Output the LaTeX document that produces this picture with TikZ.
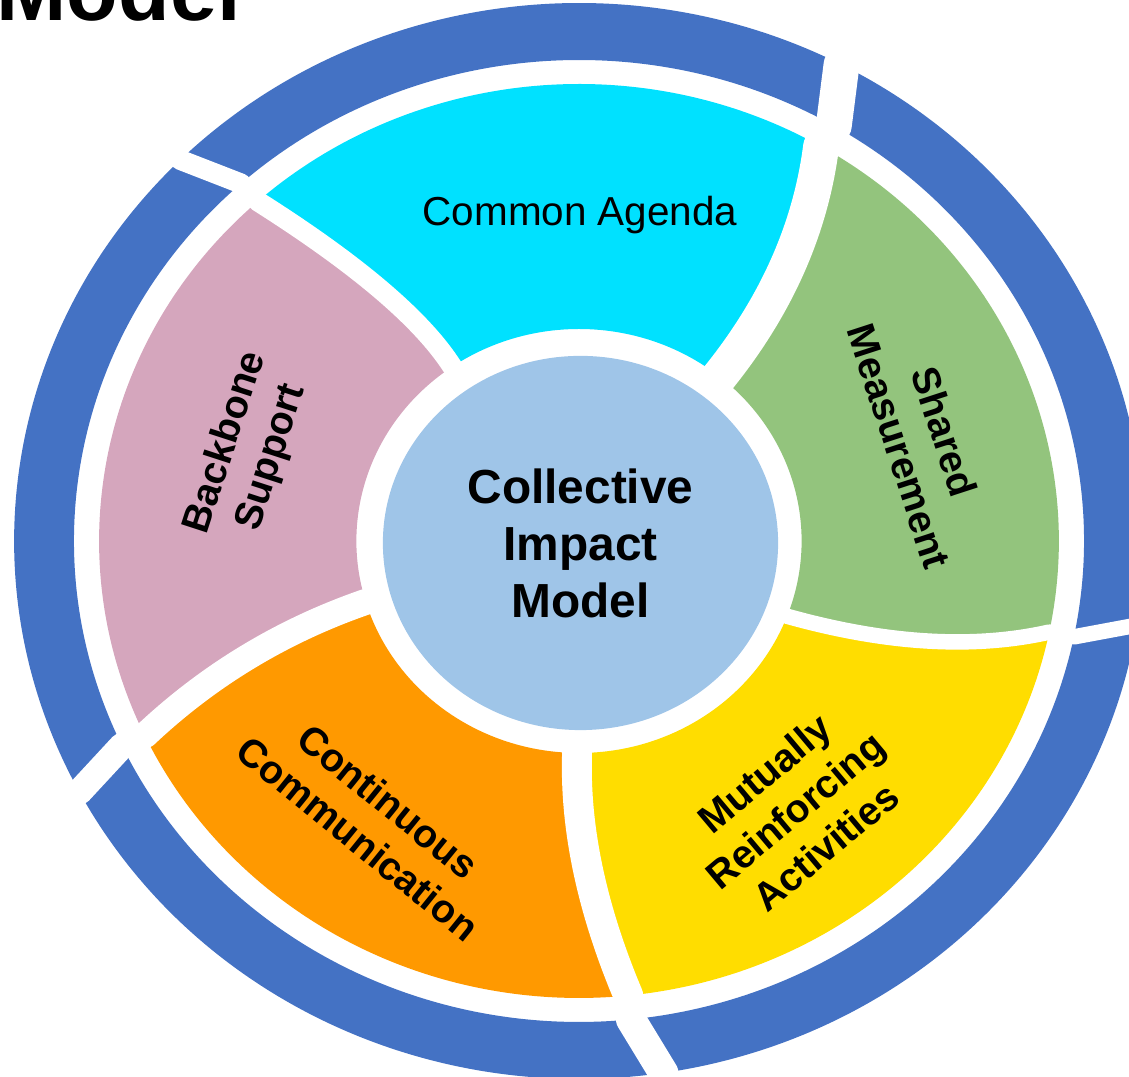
\documentclass[tikz,border=0pt]{standalone}
\usepackage{fontspec}
\setmainfont{Liberation Sans}
\usetikzlibrary{shapes.geometric,calc}
\definecolor{ringblue}{HTML}{4472C4}
\definecolor{agenda}{HTML}{00E1FF}
\definecolor{backbone}{HTML}{D5A6BD}
\definecolor{communication}{HTML}{FF9900}
\definecolor{activities}{HTML}{FFDD00}
\definecolor{measurement}{HTML}{93C47D}
\definecolor{hubblue}{HTML}{9FC5E8}
\tikzset{
    ring/.style={fill=ringblue},
    gap/.style={draw=white, line cap=round},
    hub/.style={ellipse, fill=hubblue, minimum width=3.95cm, minimum height=3.74cm, inner sep=0pt,
                align=center, font=\bfseries\fontsize{13.6}{16.2}\selectfont},
    seglabel/.style={align=center, font=\bfseries\fontsize{11.2}{13.6}\selectfont},
    title/.style={anchor=base west, inner sep=0pt, font=\bfseries\fontsize{24}{28}\selectfont},
}
\begin{document}
\begin{tikzpicture}[x=0.01cm, y=0.01cm]
    \useasboundingbox (-579,-536) rectangle (550,541);
    \clip (-579,-536) rectangle (550,541);

    \begin{scope}[xscale=1.05]
        % curved gaps: inner end, middle, outer end
        \foreach \n/\ti/\tm/\rm/\to in {1/50.9/54.2/340/59.7, 2/124.7/126.9/314/132.0,
                                        3/196.7/200.2/336/205.2, 4/269.5/271.5/329/275.9,
                                        5/339.2/343.2/346/348.5}{
            \coordinate (gin\n) at (\ti:212);
            \coordinate (gmid\n) at (\tm:\rm);
            \coordinate (gout\n) at (\to:457);
            \coordinate (gca\n) at ($1.3333*(gmid\n)-0.3333*(gout\n)$);
            \coordinate (gcb\n) at ($1.3333*(gmid\n)-0.3333*(gin\n)$);
        }
        % coloured segments
        \foreach \p/\q/\ai/\bi/\ao/\bo/\col in {1/2/50.9/124.7/59.7/132.0/agenda,
                                                2/3/124.7/196.7/132.0/205.2/backbone,
                                                3/4/196.7/269.5/205.2/275.9/communication,
                                                4/5/269.5/339.2/275.9/348.5/activities,
                                                5/1/339.2/410.9/348.5/419.7/measurement}{
            \fill[\col] (gin\p) arc[start angle=\ai, end angle=\bi, radius=212]
                .. controls (gca\q) and (gcb\q) .. (gout\q)
                arc[start angle=\bo, end angle=\ao, radius=457]
                .. controls (gcb\p) and (gca\p) .. (gin\p) -- cycle;
        }
        % outer ring
        \foreach \ao/\ab/\bo/\bb in {59.7/62.3/132.0/134.9, 132.0/134.9/205.2/207.8,
                                     205.2/207.8/275.9/278.6, 275.9/278.6/348.5/351.0,
                                     348.5/351.0/419.7/422.3}{
            \fill[ring] (\ao:481) arc[start angle=\ao, end angle=\bo, radius=481]
                -- (\bb:538) arc[start angle=\bb, end angle=\ab, radius=538] -- cycle;
        }
        % gaps
        \foreach \n/\to/\tb/\w in {1/59.7/62.3/10.2pt, 2/132.0/134.9/5.7pt,
                                   3/205.2/207.8/7.4pt, 4/275.9/278.6/8.5pt,
                                   5/348.5/351.0/4.4pt}{
            \draw[gap, line width=\w] (gin\n) .. controls (gca\n) and (gcb\n) .. (gout\n);
            \draw[gap, line width=\w] (\to:481) -- (\tb:538);
        }
    \end{scope}

    % centre
    \node[hub] (hub) at (1.5,-2) {Collective\\Impact\\Model};

    % segment labels
    \node[font=\fontsize{11.5}{13.5}\selectfont] (agendaL) at (1,326) {Common Agenda};
    \node[seglabel, rotate=-72] (measureL) at (343,102) {Shared\\Measurement};
    \node[seglabel, rotate=40] (activL) at (216,-269) {Mutually\\Reinforcing\\Activities};
    \node[seglabel, rotate=-39] (commL) at (-206,-279) {Continuous\\Communication};
    \node[seglabel, rotate=72] (backL) at (-330,91) {Backbone\\Support};

    % title, cut at the top edge
    \node[title] (titleL) at (-583,520) {Model};
\end{tikzpicture}
\end{document}
